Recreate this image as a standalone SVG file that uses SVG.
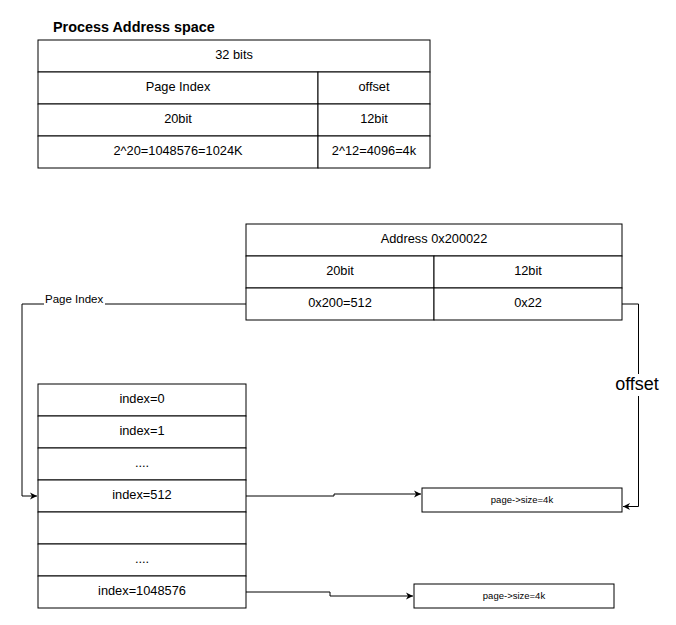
<svg xmlns="http://www.w3.org/2000/svg" width="676" height="625" viewBox="0 0 676 625">
<defs>
<style>
text{font-family:"Liberation Sans",Arial,sans-serif;fill:#000;}
.t{font-size:12.8px;text-anchor:middle;dominant-baseline:central;}
.s{font-size:9.5px;text-anchor:middle;dominant-baseline:central;}
.b{fill:#fff;stroke:#000;stroke-width:1;}
.w{fill:#fff;stroke:none;}
.c{fill:none;stroke:#000;stroke-width:1;}
</style>
<marker id="a" markerWidth="8" markerHeight="8" refX="7" refY="4" orient="auto" markerUnits="userSpaceOnUse">
<path d="M0,0.5 L7,4 L0,7.5 L2,4 Z" fill="#000"/>
</marker>
</defs>
<rect class="w" width="676" height="625"/>
<text x="53" y="32" style="font-size:14.4px;font-weight:bold">Process Address space</text>
<g id="process-table">
<rect class="b" x="38" y="40" width="392" height="32"/>
<text class="t" x="234" y="54.5">32 bits</text>
<rect class="b" x="38" y="72" width="280" height="32"/>
<text class="t" x="178" y="86.5">Page Index</text>
<rect class="b" x="318" y="72" width="112" height="32"/>
<text class="t" x="374" y="86.5">offset</text>
<rect class="b" x="38" y="104" width="280" height="32"/>
<text class="t" x="178" y="118.5">20bit</text>
<rect class="b" x="318" y="104" width="112" height="32"/>
<text class="t" x="374" y="118.5">12bit</text>
<rect class="b" x="38" y="136" width="280" height="32"/>
<text class="t" x="178" y="150.5">2^20=1048576=1024K</text>
<rect class="b" x="318" y="136" width="112" height="32"/>
<text class="t" x="374" y="150.5">2^12=4096=4k</text>
</g>
<g id="address-table">
<rect class="b" x="246" y="224" width="376" height="32"/>
<text class="t" x="434" y="238.5">Address 0x200022</text>
<rect class="b" x="246" y="256" width="188" height="32"/>
<text class="t" x="340" y="270.5">20bit</text>
<rect class="b" x="434" y="256" width="188" height="32"/>
<text class="t" x="528" y="270.5">12bit</text>
<rect class="b" x="246" y="288" width="188" height="32"/>
<text class="t" x="340" y="302.5">0x200=512</text>
<rect class="b" x="434" y="288" width="188" height="32"/>
<text class="t" x="528" y="302.5">0x22</text>
</g>
<g id="page-table">
<rect class="b" x="38" y="384" width="208" height="32"/>
<text class="t" x="142" y="398.5">index=0</text>
<rect class="b" x="38" y="416" width="208" height="32"/>
<text class="t" x="142" y="430.5">index=1</text>
<rect class="b" x="38" y="448" width="208" height="32"/>
<text class="t" x="142" y="462.5">....</text>
<rect class="b" x="38" y="480" width="208" height="32"/>
<text class="t" x="142" y="494.5">index=512</text>
<rect class="b" x="38" y="512" width="208" height="32"/>
<rect class="b" x="38" y="544" width="208" height="32"/>
<text class="t" x="142" y="558.5">....</text>
<rect class="b" x="38" y="576" width="208" height="32"/>
<text class="t" x="142" y="590.5">index=1048576</text>
</g>
<g id="page1">
<rect class="b" x="422" y="488" width="200" height="24"/>
<text class="s" x="522" y="499.5">page-&gt;size=4k</text>
</g>
<g id="page2">
<rect class="b" x="414" y="584" width="200" height="24"/>
<text class="s" x="514" y="595.5">page-&gt;size=4k</text>
</g>
<g id="connectors">
<path class="c" d="M246,304 H22 V496 H37" marker-end="url(#a)"/>
<rect class="w" x="44" y="293" width="61" height="12"/>
<text x="45" y="303" style="font-size:11.5px">Page Index</text>
<path class="c" d="M622,304 H638.5 V506.5 H623" marker-end="url(#a)"/>
<rect class="w" x="612" y="374" width="50" height="22"/>
<text x="637" y="384" style="font-size:18px;text-anchor:middle;dominant-baseline:central">offset</text>
<path class="c" d="M246,496 H334 V494 H421" marker-end="url(#a)"/>
<path class="c" d="M246,592 H330 V596 H413" marker-end="url(#a)"/>
</g>
</svg>
